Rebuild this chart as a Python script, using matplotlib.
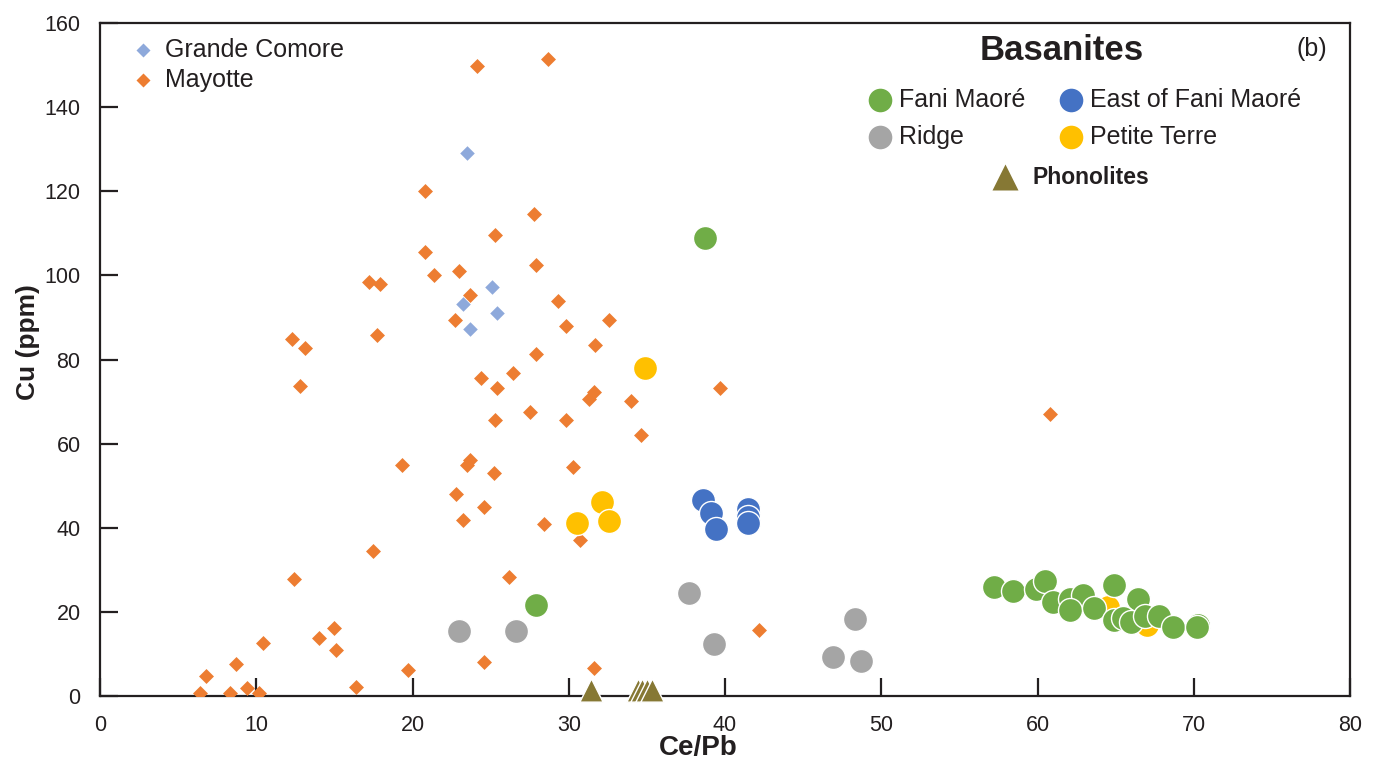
import matplotlib
matplotlib.use("Agg")
import matplotlib.pyplot as plt
from matplotlib.lines import Line2D

plt.rcParams['font.family'] = ['Liberation Sans', 'DejaVu Sans']

# ---------------- data ----------------
mayotte_x = [28.7, 24.1, 20.8, 27.8, 25.3, 20.8, 23.0, 27.9, 21.4, 17.2, 17.9, 23.7, 29.3,
             22.7, 32.6, 29.8, 17.7, 12.3, 13.1, 31.7, 27.9, 12.8, 26.4, 24.4, 25.4, 31.6,
             31.3, 27.5, 34.0, 39.7, 25.3, 29.8, 34.6, 60.8, 19.3, 23.7, 23.5, 25.2, 30.3,
             22.8, 24.6, 23.2, 28.4, 30.7, 17.5, 12.4, 26.2, 15.0, 14.0, 10.4, 15.1, 42.2,
             8.7, 6.8, 24.6, 19.7, 31.6, 9.4, 16.4, 6.4, 8.3, 10.2]
mayotte_y = [151.4, 149.8, 120.1, 114.6, 109.6, 105.6, 101.0, 102.5, 100.1, 98.4, 98.0, 95.3,
             94.0, 89.4, 89.4, 88.0, 85.8, 84.9, 82.7, 83.5, 81.3, 73.7, 76.8, 75.6, 73.2,
             72.3, 70.6, 67.5, 70.1, 73.2, 65.6, 65.6, 62.1, 67.0, 54.9, 56.1, 54.9, 53.0,
             54.4, 48.0, 44.9, 41.8, 40.9, 37.1, 34.5, 27.8, 28.3, 16.2, 13.8, 12.6, 10.9,
             15.7, 7.6, 4.8, 8.1, 6.2, 6.7, 1.9, 2.1, 0.7, 0.7, 0.7]

grande_comore_x = [23.5, 23.2, 25.1, 25.4, 23.7]
grande_comore_y = [129.1, 93.2, 97.2, 91.1, 87.3]

fani_x = [38.7, 27.9, 57.2, 58.4, 59.9, 60.5, 61.0, 62.1, 62.9, 62.1, 63.6, 64.9, 66.4,
          64.9, 65.5, 66.0, 66.9, 67.8, 68.7, 70.3, 70.2]
fani_y = [108.9, 21.6, 25.9, 25.0, 25.4, 27.3, 22.4, 23.0, 23.9, 20.4, 21.0, 26.3, 23.1,
          18.1, 18.5, 17.7, 19.0, 19.0, 16.4, 16.9, 16.3]

east_x = [38.6, 39.1, 39.4, 41.5, 41.5, 41.5]
east_y = [46.7, 43.6, 39.6, 44.4, 42.6, 41.1]

ridge_x = [23.0, 26.6, 37.7, 39.3, 46.9, 48.3, 48.7]
ridge_y = [15.5, 15.5, 24.5, 12.4, 9.3, 18.2, 8.4]

petite_x = [34.9, 30.5, 32.1, 32.6, 64.5, 67.0]
petite_y = [78.0, 41.1, 46.1, 41.6, 21.2, 16.9]

phono_x = [31.4, 34.4, 34.7, 35.0, 35.3]
phono_y = [1.4, 1.4, 1.4, 1.4, 1.4]

x_ticks = [0, 10, 20, 30, 40, 50, 60, 70, 80]
y_ticks = [0, 20, 40, 60, 80, 100, 120, 140, 160]

# ---------------- colours ----------------
c_orange = '#ED7D31'
c_lblue = '#8EA9DB'
c_green = '#70AD47'
c_blue = '#4472C4'
c_grey = '#A5A5A5'
c_yellow = '#FFC000'
c_olive = '#867834'

W, H = 1373, 771
fig = plt.figure(figsize=(W / 100, H / 100), dpi=100)
ax = fig.add_axes([100 / W, 1 - 696 / H, 1250 / W, 673 / H])

circ_s = 300
ax.scatter(grande_comore_x, grande_comore_y, marker='D', s=55, color=c_lblue, linewidths=0, zorder=3)
ax.scatter(mayotte_x, mayotte_y, marker='D', s=58, color=c_orange, linewidths=0, zorder=3)
ax.scatter(ridge_x, ridge_y, s=circ_s, color=c_grey, edgecolors='white', linewidths=1.0, zorder=4)
ax.scatter(petite_x, petite_y, s=circ_s, color=c_yellow, edgecolors='white', linewidths=1.0, zorder=4)
ax.scatter(fani_x, fani_y, s=circ_s, color=c_green, edgecolors='white', linewidths=1.0, zorder=5)
ax.scatter(east_x, east_y, s=circ_s, color=c_blue, edgecolors='white', linewidths=1.0, zorder=5)
ax.scatter(phono_x, phono_y, marker='^', s=280, color=c_olive, edgecolors='white', linewidths=1.0,
           zorder=6, clip_on=False)

ax.set_xlim(0, 80)
ax.set_ylim(0, 160)
ax.set_xticks(x_ticks)
ax.set_yticks(y_ticks)
ax.tick_params(direction='in', length=13, width=1.6, labelsize=15.5, color='#231F20',
               labelcolor='#231F20')
ax.tick_params(axis='x', pad=14)
ax.tick_params(axis='y', pad=14)
for sp in ax.spines.values():
    sp.set_linewidth(1.6)
    sp.set_color('#231F20')

ax.set_xlabel('Ce/Pb', fontsize=20, fontweight='bold', color='#231F20', va='center')
ax.set_ylabel('Cu (ppm)', fontsize=19, fontweight='bold', color='#231F20', va='center')
ax.xaxis.set_label_coords(0.479, -0.077)
ax.yaxis.set_label_coords(-0.058, 0.526)


# ---------------- legends (figure pixel coords) ----------------
def fx(px):
    return px / W


def fy(py):
    return 1 - py / H


def entry(px, py, marker, color, ms, label, tx, size=17, weight='normal', mec='none'):
    fig.add_artist(Line2D([fx(px)], [fy(py)], marker=marker, color=color, markersize=ms,
                          markeredgecolor=mec, linestyle='none'))
    fig.text(fx(tx), fy(py), label, fontsize=size, fontweight=weight, va='center', ha='left',
             color='#231F20')


entry(143, 50, 'D', c_lblue, 7.5, 'Grande Comore', 165, size=18)
entry(143, 80, 'D', c_orange, 7.5, 'Mayotte', 165, size=18)

fig.text(fx(1062), fy(51), 'Basanites', fontsize=25, fontweight='bold', ha='center', va='center',
         color='#231F20')
fig.text(fx(1312), fy(49), '(b)', fontsize=18, ha='center', va='center', color='#231F20')

entry(880, 100, 'o', c_green, 17, 'Fani Maoré', 899, size=18)
entry(1071, 100, 'o', c_blue, 17, 'East of Fani Maoré', 1090, size=18)
entry(880, 137, 'o', c_grey, 17, 'Ridge', 899, size=18)
entry(1071, 137, 'o', c_yellow, 17, 'Petite Terre', 1090, size=18)
entry(1005, 177, '^', c_olive, 19, 'Phonolites', 1032, size=16.5, weight='bold')

fig.savefig('out.png', dpi=100)
